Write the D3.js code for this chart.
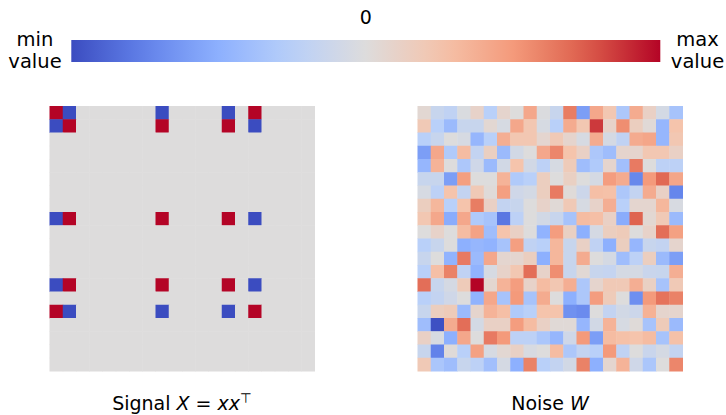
<!DOCTYPE html>
<html>
<head>
<meta charset="utf-8">
<script src="https://cdn.jsdelivr.net/npm/d3@7"></script>
<style>
  body { margin: 0; background: #fff; }
  svg text { font-family: "DejaVu Sans", sans-serif; fill: #000; }
</style>
</head>
<body>
<div class="chart"></div>
<script>
// cell values, scaled so that -1 = min, 1 = max
var signalRows = [
  [ 1,-1, 0, 0, 0, 0, 0, 0,-1, 0, 0, 0, 0,-1, 0, 1, 0, 0, 0, 0],
  [-1, 1, 0, 0, 0, 0, 0, 0, 1, 0, 0, 0, 0, 1, 0,-1, 0, 0, 0, 0],
  [ 0, 0, 0, 0, 0, 0, 0, 0, 0, 0, 0, 0, 0, 0, 0, 0, 0, 0, 0, 0],
  [ 0, 0, 0, 0, 0, 0, 0, 0, 0, 0, 0, 0, 0, 0, 0, 0, 0, 0, 0, 0],
  [ 0, 0, 0, 0, 0, 0, 0, 0, 0, 0, 0, 0, 0, 0, 0, 0, 0, 0, 0, 0],
  [ 0, 0, 0, 0, 0, 0, 0, 0, 0, 0, 0, 0, 0, 0, 0, 0, 0, 0, 0, 0],
  [ 0, 0, 0, 0, 0, 0, 0, 0, 0, 0, 0, 0, 0, 0, 0, 0, 0, 0, 0, 0],
  [ 0, 0, 0, 0, 0, 0, 0, 0, 0, 0, 0, 0, 0, 0, 0, 0, 0, 0, 0, 0],
  [-1, 1, 0, 0, 0, 0, 0, 0, 1, 0, 0, 0, 0, 1, 0,-1, 0, 0, 0, 0],
  [ 0, 0, 0, 0, 0, 0, 0, 0, 0, 0, 0, 0, 0, 0, 0, 0, 0, 0, 0, 0],
  [ 0, 0, 0, 0, 0, 0, 0, 0, 0, 0, 0, 0, 0, 0, 0, 0, 0, 0, 0, 0],
  [ 0, 0, 0, 0, 0, 0, 0, 0, 0, 0, 0, 0, 0, 0, 0, 0, 0, 0, 0, 0],
  [ 0, 0, 0, 0, 0, 0, 0, 0, 0, 0, 0, 0, 0, 0, 0, 0, 0, 0, 0, 0],
  [-1, 1, 0, 0, 0, 0, 0, 0, 1, 0, 0, 0, 0, 1, 0,-1, 0, 0, 0, 0],
  [ 0, 0, 0, 0, 0, 0, 0, 0, 0, 0, 0, 0, 0, 0, 0, 0, 0, 0, 0, 0],
  [ 1,-1, 0, 0, 0, 0, 0, 0,-1, 0, 0, 0, 0,-1, 0, 1, 0, 0, 0, 0],
  [ 0, 0, 0, 0, 0, 0, 0, 0, 0, 0, 0, 0, 0, 0, 0, 0, 0, 0, 0, 0],
  [ 0, 0, 0, 0, 0, 0, 0, 0, 0, 0, 0, 0, 0, 0, 0, 0, 0, 0, 0, 0],
  [ 0, 0, 0, 0, 0, 0, 0, 0, 0, 0, 0, 0, 0, 0, 0, 0, 0, 0, 0, 0],
  [ 0, 0, 0, 0, 0, 0, 0, 0, 0, 0, 0, 0, 0, 0, 0, 0, 0, 0, 0, 0]
];

var noiseRows = [
  [ 0.05,-0.15,-0.2,-0.03, 0.1,-0.25, 0.08, 0, 0.42,-0.02,-0.15, 0.62,-0.6, 0.42, 0.22,-0.32, 0.4, 0.12,-0.07,-0.35],
  [ 0.2,-0.25,-0.42,-0.15,-0.15, 0.05,-0.05, 0.42, 0.22,-0.05,-0.25, 0.4, 0.22, 0.85, 0.1, 0.55, 0.15, 0.03,-0.45, 0.25],
  [-0.25,-0.15, 0,-0.05,-0.45,-0.25, 0.38, 0.22, 0.22, 0.07, 0.2, 0.08,-0.05, 0.4,-0.06,-0.2, 0.4, 0.43,-0.45, 0.22],
  [-0.6, 0.42,-0.3, 0.3,-0.18, 0.14,-0.42,-0.08, 0, 0.42, 0.58, 0.25, 0.12,-0.32,-0.4, 0.08, 0.08, 0.22, 0.22, 0.12],
  [-0.45, 0.35, 0,-0.32,-0.1,-0.42,-0.08, 0.25,-0.08,-0.22,-0.05, 0.18,-0.4,-0.3, 0.08,-0.38, 0.63, 0,-0.22,-0.22],
  [-0.15,-0.15,-0.6, 0.47, 0, 0, 0.35,-0.3,-0.25, 0.15, 0, 0.13, 0,-0.06, 0.48, 0.4,-0.72, 0.5, 0.7, 0.43],
  [-0.05,-0.22, 0.25,-0.18, 0.2, 0.02, 0.47,-0.1,-0.07, 0.15, 0.63, 0.02,-0.12, 0.28, 0.27,-0.32,-0.18, 0.4, 0.12,-0.73],
  [ 0.15, 0.33,-0.25, 0.25, 0.62, 0.12,-0.18,-0.15, 0, 0.1, 0.03, 0.2,-0.05, 0.1, 0.38,-0.25, 0.07, 0.07, 0.33,-0.04],
  [ 0.22, 0.42,-0.52, 0.42,-0.3,-0.35,-0.8,-0.22, 0,-0.08,-0.15,-0.35, 0.3, 0.28, 0.12,-0.52, 0.72, 0.05, 0.2,-0.42],
  [ 0, 0.1, 0, 0.3, 0.45,-0.4, 0.25, 0.12, 0,-0.48, 0.48, 0.13,-0.5,-0.06, 0.15, 0.18, 0, 0.1, 0.68, 0.46],
  [-0.25,-0.15, 0,-0.5,-0.45,-0.48,-0.35, 0.47,-0.2,-0.25, 0.33,-0.15, 0.12,-0.2,-0.5, 0.15,-0.45,-0.15,-0.18, 0.08],
  [-0.15, 0,-0.48, 0.63,-0.42, 0.42, 0.07, 0.07, 0.15,-0.5, 0.33,-0.15, 0.4, 0,-0.06,-0.4,-0.22, 0.15,-0.42,-0.6],
  [-0.25, 0.28, 0.6,-0.2,-0.48,-0.05, 0.1, 0.22, 0.68, 0.1, 0.55,-0.15, 0.04,-0.15,-0.17,-0.06,-0.06,-0.14,-0.15, 0.38],
  [ 0.68,-0.15,-0.06, 0.18, 1.0, 0.06, 0.35, 0.48, 0.1, 0.3, 0.22, 0.38,-0.32, 0.08, 0.2, 0.2, 0.38, 0.13,-0.35, 0.2],
  [-0.25,-0.18,-0.1, 0,-0.48, 0.42,-0.35, 0.5,-0.35, 0.4, 0,-0.5,-0.32, 0.48, 0.18, 0,-0.68, 0.5, 0.66, 0.6],
  [-0.15, 0.15, 0.18,-0.42, 0.08, 0.35, 0.28,-0.3,-0.25, 0.25, 0.25,-0.67,-0.7, 0,-0.18,-0.08,-0.12, 0.36, 0.08, 0.08],
  [-0.4,-0.98, 0.4, 0.68,-0.07, 0.12, 0.12, 0.48, 0.3, 0.12, 0.03, 0.03,-0.45,-0.08, 0.35,-0.05, 0.02,-0.35, 0.18,-0.42],
  [ 0.12,-0.04,-0.5, 0.42, 0, 0.63, 0.5,-0.22,-0.22,-0.33,-0.45,-0.1, 0.5,-0.6, 0.3, 0.27, 0.25, 0.3,-0.35, 0.27],
  [-0.15,-0.75, 0.02,-0.25, 0.46,-0.05, 0.05, 0.12,-0.04, 0, 0.3,-0.32,-0.18,-0.25, 0.5,-0.2, 0,-0.14,-0.06,-0.18],
  [ 0.2,-0.33,-0.4,-0.15,-0.22,-0.38,-0.06,-0.5, 0.6,-0.25,-0.18,-0.08, 0.6,-0.5, 0.07, 0.35,-0.1,-0.33, 0, 0.58]
];

var colorbarTicks = ["0"];
var colorbarEnds = [["min", "value"], ["max", "value"]];

var w = 726, h = 415;

var svg = d3.select("div.chart")
    .append("svg")
    .attr("width", w)
    .attr("height", h);

// coolwarm stops
var cwDomain = [-1, -0.75, -0.5, -0.25, 0, 0.25, 0.5, 0.75, 1];
var cwColors = ["#3b4cc0", "#6282ea", "#8db0fe", "#b9d0f9", "#dddcdc",
                "#f5c4ac", "#f49a7b", "#dc5d4a", "#b40426"];
var color = d3.scaleLinear()
    .domain(cwDomain)
    .range(cwColors)
    .interpolate(d3.interpolateRgb)
    .clamp(true);

//colorbar
var cbX = d3.scaleLinear().domain([-1, 1]).range([71.3, 660.3]);
var grad = svg.append("defs").append("linearGradient")
    .attr("id", "cw")
    .attr("x1", "0%").attr("x2", "100%");
grad.selectAll("stop")
    .data(d3.range(0, 1.0001, 0.05))
    .enter()
    .append("stop")
    .attr("offset", d => (d * 100) + "%")
    .attr("stop-color", d => color(d * 2 - 1));

svg.append("rect")
    .attr("x", cbX(-1))
    .attr("y", 40)
    .attr("width", cbX(1) - cbX(-1))
    .attr("height", 22)
    .attr("fill", "url(#cw)");

svg.selectAll(".cbtick")
    .data(colorbarTicks)
    .enter()
    .append("text")
    .attr("class", "cbtick")
    .attr("x", d => cbX(+d))
    .attr("y", 23.5)
    .attr("text-anchor", "middle")
    .style("font-size", "19px")
    .text(d => d);

var endX = [35, 697.5];
colorbarEnds.forEach(function(lines, i){
    var t = svg.append("text")
        .attr("text-anchor", "middle")
        .style("font-size", "19.5px");
    lines.forEach(function(l, j){
        t.append("tspan")
            .attr("x", endX[i])
            .attr("y", 46 + j * 22)
            .text(l);
    });
});

//heatmaps
var idx = d3.range(20);
function heatmap(rows, x0, title){
    var x = d3.scaleBand().domain(idx).range([x0, x0 + 265]);
    var y = d3.scaleBand().domain(idx).range([106, 371]);
    var cells = [];
    rows.forEach(function(r, i){
        r.forEach(function(v, j){ cells.push({i: i, j: j, v: v}); });
    });
    var g = svg.append("g");
    g.selectAll("rect")
        .data(cells)
        .enter()
        .append("rect")
        .attr("x", d => x(d.j))
        .attr("y", d => y(d.i))
        .attr("width", x.bandwidth() + 0.5)
        .attr("height", y.bandwidth() + 0.5)
        .attr("fill", d => color(d.v));

    var t = g.append("text")
        .attr("x", x0 + 132.5)
        .attr("y", 409.5)
        .attr("text-anchor", "middle")
        .attr("xml:space", "preserve")
        .style("font-size", "19px");
    title.forEach(function(p){
        var s = t.append("tspan").text(p.t);
        if (p.it) s.style("font-style", "italic");
        if (p.sup) s.attr("dy", -7).style("font-size", "13.5px");
    });
}

heatmap(signalRows, 49.5, [
    {t: "Signal "}, {t: "X", it: true}, {t: " = "}, {t: "xx", it: true}, {t: "\u22A4", sup: true}
]);
heatmap(noiseRows, 417.5, [
    {t: "Noise "}, {t: "W", it: true}
]);
</script>
</body>
</html>
